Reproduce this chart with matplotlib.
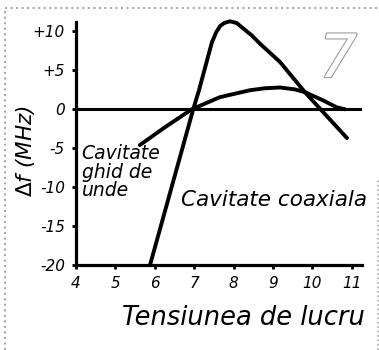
import matplotlib
matplotlib.use("Agg")
import matplotlib.pyplot as plt
import matplotlib.patheffects as pe
from matplotlib.lines import Line2D

# Frequency shift vs. working voltage, two cavity types
# waveguide cavity (steep curve)
ghid_v = [5.88, 6.97, 7.12, 7.45, 7.56, 7.66, 7.77, 7.91, 8.08, 8.25, 8.46, 8.67,
          9.18, 9.81, 10.19, 10.88]
ghid_df = [-20.0, -0.1, 2.4, 8.6, 9.9, 10.7, 11.1, 11.3, 11.08, 10.36, 9.5, 8.43,
           6.07, 2.2, 0.1, -3.7]

# coaxial cavity (flat curve)
coax_v = [5.62, 6.26, 6.94, 7.65, 8.42, 8.8, 9.18, 9.56, 9.81, 10.27, 10.62, 10.83]
coax_df = [-4.6, -2.3, 0.0, 1.55, 2.45, 2.7, 2.8, 2.55, 2.2, 1.15, 0.25, 0.0]

x_ticks = [4, 5, 6, 7, 8, 9, 10, 11]
y_ticks = [10, 5, 0, -5, -10, -15, -20]
y_labels = ["+10", "+5", "0", "-5", "-10", "-15", "-20"]

hand = dict(family="DejaVu Sans", style="italic", fontweight="light")

fig = plt.figure(figsize=(3.79, 3.5), dpi=100)
ax = fig.add_axes([0.2005, 0.2429, 0.7546, 0.694])
ax.set_xlim(4, 11.26)
ax.set_ylim(-20, 11.2)

ax.plot(ghid_v, ghid_df, color="black", lw=2.8, solid_capstyle="round",
        solid_joinstyle="round", clip_on=False)
ax.plot(coax_v, coax_df, color="black", lw=2.8, solid_capstyle="round",
        solid_joinstyle="round", clip_on=False)
ax.axhline(0, color="black", lw=2.2)

for s in ["top", "right"]:
    ax.spines[s].set_visible(False)
for s in ["left", "bottom"]:
    ax.spines[s].set_linewidth(2.3)

ax.set_xticks(x_ticks)
ax.set_xticklabels([str(v) for v in x_ticks], fontsize=11, **hand)
ax.set_yticks(y_ticks)
ax.set_yticklabels(y_labels, fontsize=11, **hand)
ax.tick_params(length=3, width=2, direction="out", pad=5)

ax.set_ylabel(r"$\Delta$f (MHz)", fontsize=15.5, **hand)
ax.yaxis.set_label_coords(-0.135, 0.47)
ax.set_xlabel("Tensiunea de lucru", fontsize=18.5, labelpad=10, x=0.585, **hand)

ax.text(4.14, -4.5, "Cavitate\nghid de\nunde", fontsize=13.5, va="top",
        linespacing=0.95, **hand)
ax.text(6.66, -11.7, "Cavitate coaxiala", fontsize=15.5, va="center",
        clip_on=False, **hand)

# figure number, outlined
fig.text(0.892, 0.78, "7", fontsize=43, color="white", style="italic",
         ha="center", va="baseline",
         path_effects=[pe.Stroke(linewidth=1.5, foreground="#999999"), pe.Normal()])

# scan border
fig.add_artist(Line2D([0.013, 0.013], [0, 0.977], color="#aaaaaa", lw=1.5, ls=":"))
fig.add_artist(Line2D([0.013, 1.0], [0.977, 0.977], color="#aaaaaa", lw=1.5, ls=":"))
fig.add_artist(Line2D([0.997, 0.997], [0, 0.49], color="#aaaaaa", lw=1.2, ls=":"))

fig.savefig("out.png", dpi=100)
